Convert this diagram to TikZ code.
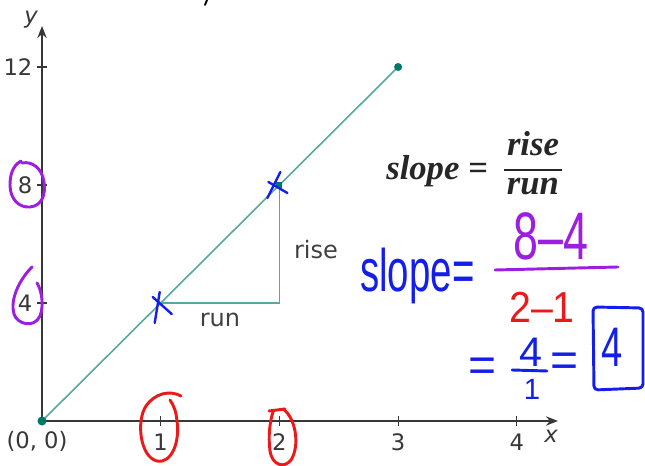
\documentclass[tikz,border=0pt]{standalone}
\usepackage{fontspec}
\usepackage{graphicx}
\usepackage{tikz}
\usetikzlibrary{arrows.meta}
\newfontfamily\axisfont{DejaVu Sans}
\newfontfamily\inkfont{Liberation Sans}
\newfontfamily\eqfont{Liberation Serif}
\definecolor{linecolor}{RGB}{88,168,158}
\definecolor{dotcolor}{RGB}{0,120,104}
\definecolor{axisgray}{RGB}{55,55,55}
\definecolor{inkblue}{RGB}{20,30,235}
\definecolor{inkpurple}{RGB}{155,30,225}
\definecolor{inkred}{RGB}{235,25,25}

\begin{document}
\begin{tikzpicture}[x=0.75pt,y=0.75pt,
    axis/.style={axisgray,line width=1.6pt},
    tick/.style={axisgray,line width=0.8pt},
    ticklabel/.style={font=\axisfont\fontsize{17}{17}\selectfont,text=axisgray,inner sep=1pt},
    graph/.style={linecolor,line width=1.2pt},
    pen/.style={line width=2.2pt,line cap=round,line join=round},
    ink/.style={font=\inkfont,inner sep=0pt},
    eq/.style={font=\eqfont\bfseries\itshape\fontsize{26}{26}\selectfont,text=black!85,inner sep=0pt}]
  \useasboundingbox (0,0) rectangle (645,466);
  \def\ux{118.7}
  \def\uy{29.5}
  % axes
  \coordinate (O) at (42,45);
  \coordinate (xend) at (558,45);
  \coordinate (yend) at (42,440);
  \draw[axis,-{Stealth[length=9pt,width=7pt]}] (O) -- (xend);
  \draw[axis,-{Stealth[length=9pt,width=7pt]}] (O) -- (yend);
  \foreach \i in {1,...,4} {
    \coordinate (xt\i) at ({42+\i*\ux},45);
    \draw[tick] ([shift={(0,-5)}]xt\i) -- ([shift={(0,5)}]xt\i);
    \node[ticklabel,anchor=north] (xl\i) at ([shift={(0,-11)}]xt\i) {\i};
  }
  \foreach \v in {4,8,12} {
    \coordinate (yt\v) at (42,{45+\v*\uy});
    \draw[tick] ([shift={(-5,0)}]yt\v) -- ([shift={(5,0)}]yt\v);
    \node[ticklabel,anchor=east] (yl\v) at ([shift={(-8,0)}]yt\v) {\v};
  }
  \node[ticklabel] (origin) at ([shift={(-5,-20)}]O) {(0, 0)};
  \node[ticklabel,font=\axisfont\itshape\fontsize{17}{17}\selectfont] (xlab) at (551,30) {x};
  \node[ticklabel,font=\axisfont\itshape\fontsize{17}{17}\selectfont] (ylab) at (31,446) {y};

  % line and rise/run triangle
  \coordinate (P1) at ({42+1*\ux},{45+4*\uy});
  \coordinate (P2) at ({42+2*\ux},{45+8*\uy});
  \coordinate (P3) at ({42+3*\ux},{45+12*\uy});
  \coordinate (corner) at ({42+2*\ux},{45+4*\uy});
  \draw[graph] (O) -- (P3);
  \draw[graph] (P1) -- (corner) -- (P2);
  \fill[dotcolor] (O) circle (3.4pt);
  \fill[dotcolor] (P3) circle (3pt);
  \fill[dotcolor] ([shift={(-3,-3)}]P2) rectangle ([shift={(3,3)}]P2);
  \node[ticklabel,font=\axisfont\fontsize{18}{18}\selectfont,text=black!75] (run) at (220,146) {run};
  \node[ticklabel,font=\axisfont\fontsize{18}{18}\selectfont,text=black!75] (rise) at (316,216) {rise};

  % slope formula
  \node[eq,anchor=base west] (slopeword) at (386,286) {slope =};
  \node[eq,anchor=base] (num) at (533,310) {rise};
  \node[eq,anchor=base] (den) at (533,271) {run};
  \draw[black!85,line width=1.4pt] (504,296) -- (562,296);

  % blue crosses on the points
  \draw[pen,inkblue,line width=1.8pt] ([shift={(-8,6)}]P1) -- ([shift={(11,-11)}]P1);
  \draw[pen,inkblue,line width=1.8pt] ([shift={(-1,11)}]P1) -- ([shift={(-6,-20)}]P1);
  \draw[pen,inkblue,line width=1.8pt] ([shift={(1,13)}]P2) -- ([shift={(-12,-13)}]P2);
  \draw[pen,inkblue,line width=1.8pt] ([shift={(-11,3)}]P2) -- ([shift={(8,-8)}]P2);

  % purple and red loops round the labels
  \draw[pen,inkpurple] (21,305) .. controls (12,300) and (10,290) .. (10,281)
    .. controls (10,266) and (20,258) .. (30,259) .. controls (42,260) and (46,272) .. (44,284)
    .. controls (42,298) and (32,305) .. (22,303);
  \draw[pen,inkpurple] (32,199) .. controls (18,185) and (10,165) .. (14,152)
    .. controls (17,142) and (34,137) .. (40,150) .. controls (44,160) and (42,175) .. (37,183);
  \draw[pen,inkred] (181,70) .. controls (170,76) and (155,73) .. (146,60)
    .. controls (136,45) and (140,9) .. (157,5) .. controls (172,2) and (180,25) .. (177,45)
    .. controls (176,55) and (174,60) .. (170,66);
  \draw[pen,inkred] (269,55) -- (285,57);
  \draw[pen,inkred] (283,57) .. controls (296,48) and (300,20) .. (291,6)
    .. controls (284,-3) and (272,1) .. (270,15) .. controls (268,30) and (270,45) .. (273,54);
  \draw[pen,black,line width=1.4pt] (207,466) -- (205,461);

  % handwritten working
  \node[ink,text=inkblue,anchor=base west] (handslope) at (360,174)
    {\scalebox{0.8}[1.25]{\fontsize{36}{36}\selectfont slope=}};
  \node[ink,text=inkpurple,anchor=base] (top) at (551,206)
    {\scalebox{0.8}[1.2]{\fontsize{42}{42}\selectfont 8–4}};
  \draw[pen,inkpurple] (495,196) -- (618,199);
  \node[ink,text=inkred,anchor=base] (bottom) at (542,143)
    {\scalebox{0.95}[1.05]{\fontsize{31}{31}\selectfont 2–1}};
  \node[ink,text=inkblue] (eqa) at (483,96) {\fontsize{36}{36}\selectfont =};
  \node[ink,text=inkblue,anchor=base] (four) at (531,99) {\fontsize{31}{31}\selectfont 4};
  \draw[pen,inkblue] (512,96) -- (547,95);
  \node[ink,text=inkblue,anchor=base] (one) at (532,66) {\fontsize{22}{22}\selectfont 1};
  \node[ink,text=inkblue] (eqb) at (565,101) {\fontsize{36}{36}\selectfont =};
  \draw[pen,inkblue,rounded corners=3pt] (593,159) -- (643,158) -- (643,78) -- (594,76) -- cycle;
  \node[ink,text=inkblue] (answer) at (612,119) {\scalebox{0.75}[1.1]{\fontsize{38}{38}\selectfont 4}};
\end{tikzpicture}
\end{document}
